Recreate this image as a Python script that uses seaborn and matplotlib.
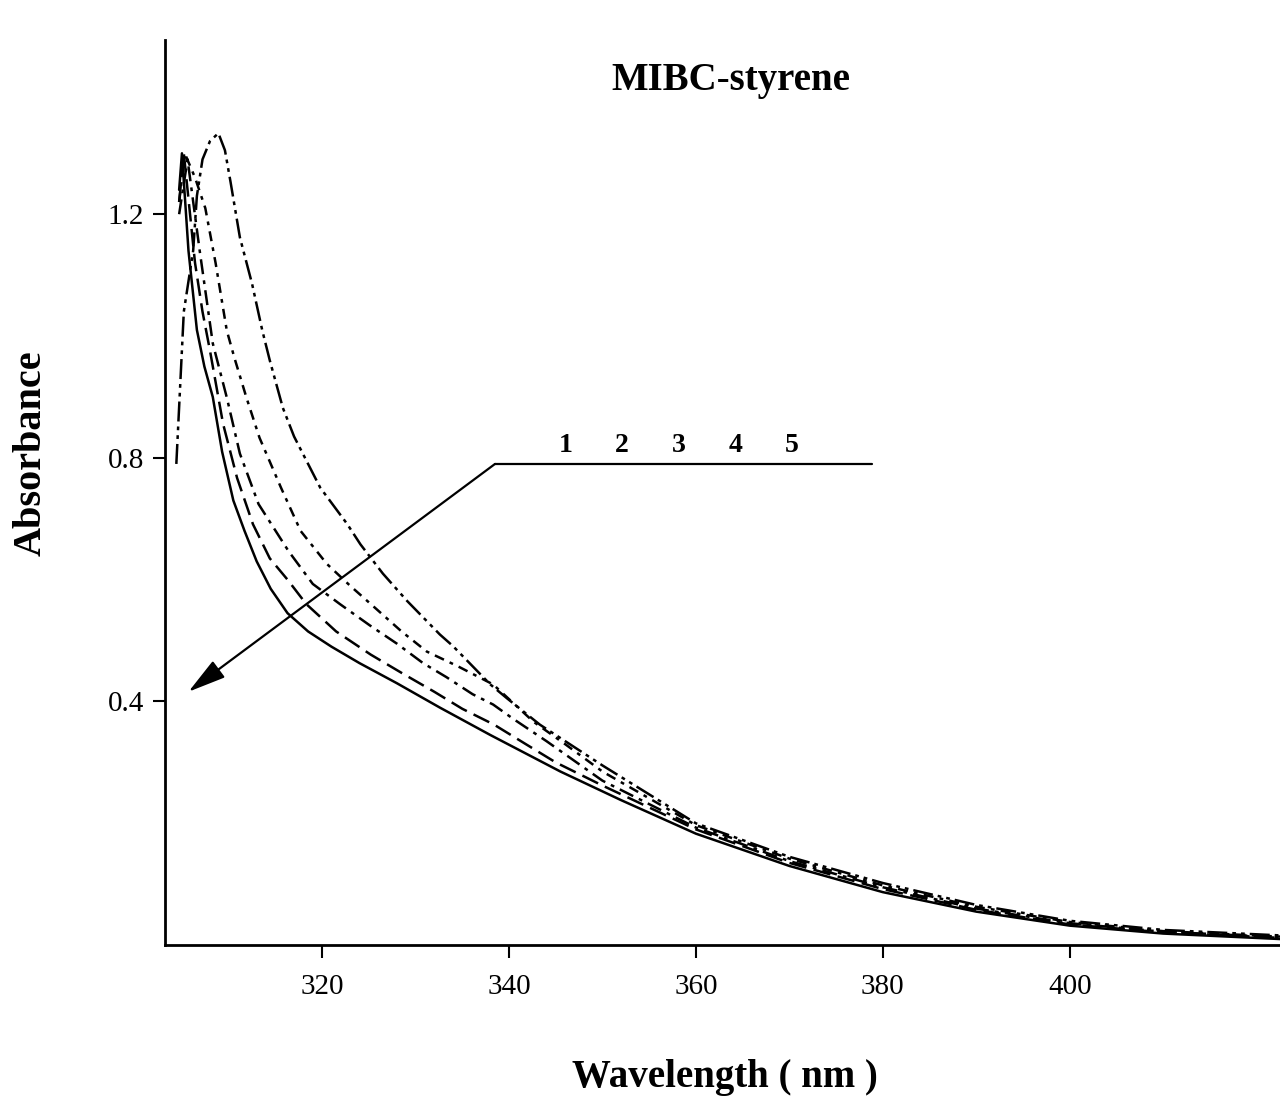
# UV-vis spectra, MIBC-styrene
import pandas as pd
import seaborn as sns
import matplotlib.pyplot as plt

# curve data, 1 = lowest solid curve ... 5 = top curve
wl_1 = [304.7, 305.0, 305.7, 306.6, 307.4, 308.3, 309.3, 310.5, 311.7, 313.0, 314.5, 316.3, 318.5,
        321.0, 324.0, 328.0, 332.6, 338.0, 345.5, 352.0, 360.0, 370.0, 380.0, 390.0, 400.0, 410.0, 422.5]
abs_1 = [1.24, 1.30, 1.14, 1.01, 0.95, 0.90, 0.81, 0.73, 0.68, 0.63, 0.585, 0.545, 0.515,
         0.49, 0.463, 0.43, 0.39, 0.345, 0.285, 0.238, 0.183, 0.13, 0.087, 0.055, 0.032, 0.019, 0.010]

wl_2 = [304.7, 305.2, 306.4, 307.2, 308.0, 309.4, 310.9, 312.6, 314.4, 316.3, 318.3, 321.5, 325.2,
        328.5, 332.0, 335.0, 338.4, 341.9, 345.0, 350.0, 360.0, 370.0, 380.0, 390.0, 400.0, 410.0, 422.5]
abs_2 = [1.22, 1.30, 1.12, 1.04, 0.976, 0.856, 0.767, 0.691, 0.635, 0.60, 0.56, 0.515, 0.477,
         0.447, 0.416, 0.388, 0.362, 0.329, 0.30, 0.262, 0.19, 0.135, 0.092, 0.058, 0.034, 0.021, 0.012]

wl_3 = [304.7, 305.6, 306.9, 308.3, 309.8, 311.2, 313.2, 316.4, 319.0, 321.9, 325.1, 328.0, 330.8,
        333.3, 336.1, 338.3, 340.4, 344.0, 350.0, 360.0, 370.0, 380.0, 390.0, 400.0, 410.0, 422.5]
abs_3 = [1.20, 1.29, 1.14, 0.988, 0.899, 0.807, 0.724, 0.647, 0.593, 0.560, 0.525, 0.495, 0.463,
         0.440, 0.412, 0.395, 0.372, 0.335, 0.27, 0.193, 0.138, 0.095, 0.06, 0.036, 0.022, 0.013]

wl_4 = [304.7, 305.3, 306.4, 307.5, 308.6, 309.8, 310.6, 311.9, 313.3, 315.6, 317.7, 320.5, 323.0,
        325.5, 328.5, 331.2, 334.5, 338.3, 342.6, 346.0, 350.0, 360.0, 370.0, 380.0, 390.0, 400.0,
        410.0, 422.5]
abs_4 = [1.22, 1.30, 1.26, 1.21, 1.12, 1.009, 0.965, 0.899, 0.833, 0.751, 0.680, 0.626, 0.59,
         0.556, 0.515, 0.482, 0.458, 0.428, 0.367, 0.33, 0.285, 0.197, 0.142, 0.098, 0.063, 0.038,
         0.023, 0.014]

wl_5 = [304.4, 305.2, 306.2, 306.6, 307.2, 308.0, 308.9, 309.6, 310.2, 311.2, 312.5, 313.6, 314.4,
        315.8, 317.0, 318.7, 319.8, 322.7, 324.1, 326.5, 329.1, 332.6, 334.0, 338.0, 339.8, 343.3,
        346.0, 350.0, 360.0, 370.0, 380.0, 390.0, 400.0, 410.0, 422.5]
abs_5 = [0.79, 1.04, 1.14, 1.23, 1.29, 1.32, 1.333, 1.305, 1.253, 1.162, 1.086, 1.009, 0.960,
         0.882, 0.835, 0.784, 0.751, 0.691, 0.658, 0.61, 0.565, 0.510, 0.491, 0.428, 0.405, 0.362,
         0.335, 0.295, 0.20, 0.145, 0.102, 0.066, 0.040, 0.025, 0.016]

curve_labels = ["1", "2", "3", "4", "5"]
x_ticks = [320, 340, 360, 380, 400]
y_ticks = [0.4, 0.8, 1.2]

frames = []
for lab, wl, ab in zip(curve_labels, [wl_1, wl_2, wl_3, wl_4, wl_5], [abs_1, abs_2, abs_3, abs_4, abs_5]):
    frames.append(pd.DataFrame({"wavelength": wl, "absorbance": ab, "curve": lab}))
df = pd.concat(frames, ignore_index=True)

sns.set_style("ticks")
plt.rcParams["font.family"] = ["Liberation Serif", "DejaVu Serif"]
plt.rcParams["text.color"] = "black"

fig = plt.figure(figsize=(12.8, 10.99), dpi=100)
ax = fig.add_axes([0.129, 0.140, 0.871, 0.8236])

dashes = {"1": "", "2": (7, 3), "3": (6, 2.5, 1.5, 2.5), "4": (4, 2.5, 1.5, 2.5),
          "5": (8, 2, 1.5, 2, 1.5, 2)}
sns.lineplot(data=df, x="wavelength", y="absorbance", style="curve", dashes=dashes,
             color="black", linewidth=1.8, estimator=None, sort=False, legend=False, ax=ax)

ax.set_xlim(303.2, 422.5)
ax.set_ylim(0, 1.486)
ax.set_xticks(x_ticks)
ax.set_xticklabels([str(t) for t in x_ticks])
ax.set_yticks(y_ticks)
ax.set_yticklabels([f"{t:.1f}" for t in y_ticks])
ax.tick_params(axis="both", direction="out", length=9, width=1.5, labelsize=21, colors="black")
ax.tick_params(axis="x", pad=12)
ax.tick_params(axis="y", pad=6)
for s in ["top", "right"]:
    ax.spines[s].set_visible(False)
for s in ["left", "bottom"]:
    ax.spines[s].set_linewidth(2)
    ax.spines[s].set_color("black")
ax.set_xlabel("")
ax.set_ylabel("")

# curve numbering with arrow
ax.plot([338.5, 378.8], [0.79, 0.79], color="black", lw=1.6)
ax.annotate("", xy=(305.7, 0.416), xytext=(338.5, 0.79),
            arrowprops=dict(arrowstyle="-|>,head_length=1.3,head_width=0.35", color="black",
                            lw=1.6, mutation_scale=18, shrinkA=0, shrinkB=0))
for lab, xpos in zip(curve_labels, [346.1, 352.1, 358.2, 364.2, 370.3]):
    ax.text(xpos, 0.80, lab, ha="center", va="bottom", fontsize=20, fontweight="bold")

fig.text(0.571, 0.927, "MIBC-styrene", ha="center", va="center", fontsize=28, fontweight="bold")
fig.text(0.566, 0.020, "Wavelength ( nm )", ha="center", va="center", fontsize=28, fontweight="bold")
fig.text(0.024, 0.588, "Absorbance", ha="center", va="center", rotation=90, fontsize=29,
         fontweight="bold")

fig.savefig("out.png", dpi=100)
